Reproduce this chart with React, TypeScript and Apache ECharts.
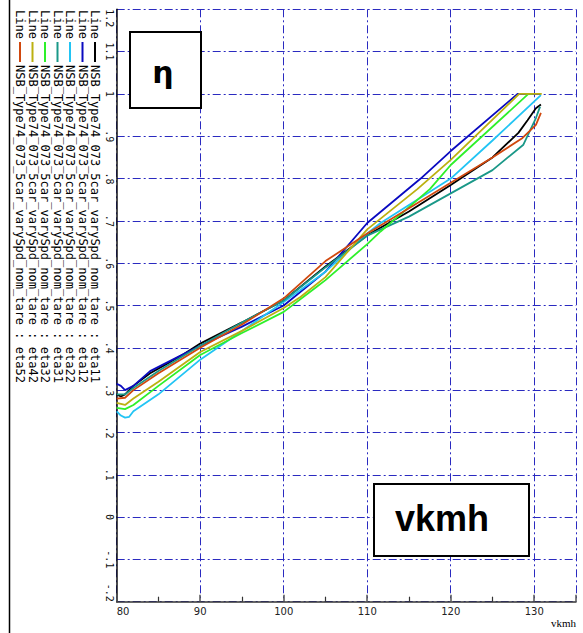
import React, { useEffect, useRef } from "react";
import * as echarts from "echarts";

const seriesNames = [
  "NSB_Type74_073_5car_varySpd_nom_tare : eta11",
  "NSB_Type74_073_5car_varySpd_nom_tare : eta12",
  "NSB_Type74_073_5car_varySpd_nom_tare : eta22",
  "NSB_Type74_073_5car_varySpd_nom_tare : eta31",
  "NSB_Type74_073_5car_varySpd_nom_tare : eta32",
  "NSB_Type74_073_5car_varySpd_nom_tare : eta42",
  "NSB_Type74_073_5car_varySpd_nom_tare : eta52",
];
const seriesColors = ["#000000", "#0a0ac0", "#22c4f4", "#1a9888", "#2ef02a", "#bcb010", "#d0480e"];

const eta11V = [80, 80.5, 81, 82, 84, 86, 88, 90, 95, 100, 105, 110, 115, 120, 125, 128.1, 129.2, 130.2, 130.8];
const eta11Y = [0.29, 0.285, 0.29, 0.31, 0.34, 0.362, 0.385, 0.41, 0.46, 0.512, 0.592, 0.666, 0.722, 0.785, 0.85, 0.908, 0.938, 0.966, 0.975];

const eta12V = [80, 80.5, 81, 82, 84, 86, 88, 90, 95, 100, 105, 110, 116.4, 120, 128, 130.5];
const eta12Y = [0.315, 0.31, 0.3, 0.31, 0.345, 0.365, 0.385, 0.405, 0.45, 0.5, 0.58, 0.695, 0.8, 0.865, 1.0, 1.0];

const eta22V = [80, 80.5, 81, 81.5, 82, 85, 90, 95, 100, 105, 110, 111.6, 120, 125, 130.8];
const eta22Y = [0.25, 0.24, 0.235, 0.237, 0.25, 0.29, 0.372, 0.44, 0.508, 0.58, 0.67, 0.695, 0.8, 0.89, 0.997];

const eta31V = [80, 81, 82, 85, 90, 95, 100, 105, 110, 115, 120, 125, 128.7, 130.2, 130.7];
const eta31Y = [0.29, 0.29, 0.305, 0.345, 0.405, 0.46, 0.512, 0.59, 0.665, 0.71, 0.765, 0.82, 0.88, 0.943, 0.97];

const eta32V = [80, 81, 82, 85, 90, 95, 100, 104, 105, 110, 111.6, 117.5, 120, 129.3, 129.8];
const eta32Y = [0.258, 0.255, 0.265, 0.31, 0.383, 0.435, 0.485, 0.545, 0.56, 0.645, 0.675, 0.775, 0.832, 1.0, 1.0];

const eta42V = [80, 81, 82, 85, 90, 95, 100, 102, 105, 110, 116, 120, 128.2, 130.9];
const eta42Y = [0.27, 0.265, 0.28, 0.32, 0.39, 0.44, 0.494, 0.52, 0.567, 0.68, 0.775, 0.844, 1.0, 1.0];

const eta52V = [80, 81, 82, 85, 90, 95, 100, 105, 110, 115, 120, 125, 128.6, 130.2, 130.8];
const eta52Y = [0.28, 0.282, 0.3, 0.34, 0.4, 0.455, 0.517, 0.605, 0.67, 0.73, 0.79, 0.85, 0.896, 0.927, 0.955];

const seriesV = [eta11V, eta12V, eta22V, eta31V, eta32V, eta42V, eta52V];
const seriesY = [eta11Y, eta12Y, eta22Y, eta31Y, eta32Y, eta42Y, eta52Y];

const xTitle = "vkmh";
const yTitle = "η";

const MONO = "'DejaVu Sans Mono', 'Liberation Mono', monospace";

function fmtY(v: number): string {
  const r = Math.round(v * 10) / 10;
  let s = r.toString();
  s = s.replace(/^0\./, ".").replace(/^-0\./, "-.");
  return s;
}

export default function App() {
  const ref = useRef<HTMLDivElement>(null);
  useEffect(() => {
    if (!ref.current) return;
    const chart = echarts.init(ref.current, undefined, { renderer: "svg" });

    const legendCols = [95, 82.5, 70, 57.5, 45, 32.5, 20];
    const legendGraphics: any[] = [];
    seriesNames.forEach((name, i) => {
      const cx = legendCols[i];
      legendGraphics.push({
        type: "text",
        x: cx,
        y: 10,
        rotation: -Math.PI / 2,
        style: { text: "Line", fill: "#000", font: `12px ${MONO}`, textAlign: "left", textVerticalAlign: "middle" },
      });
      legendGraphics.push({
        type: "line",
        shape: { x1: cx, y1: 42, x2: cx, y2: 62 },
        style: { stroke: seriesColors[i], lineWidth: 2 },
      });
      legendGraphics.push({
        type: "text",
        x: cx,
        y: 65,
        rotation: -Math.PI / 2,
        style: { text: name, fill: "#000", font: `12px ${MONO}`, textAlign: "left", textVerticalAlign: "middle" },
      });
    });

    const option: any = {
      animation: false,
      backgroundColor: "#ffffff",
      grid: { left: 116.7, top: 9.3, right: 7, bottom: 31.3, containLabel: false },
      xAxis: {
        type: "value",
        min: 80,
        max: 135,
        interval: 10,
        name: xTitle,
        nameLocation: "end",
        nameGap: 0,
        nameTextStyle: {
          fontFamily: "'Liberation Serif', 'DejaVu Serif', serif",
          fontSize: 11,
          color: "#000",
          align: "right",
          verticalAlign: "top",
          padding: [16, 0, 0, 0],
        },
        axisLine: { show: true, onZero: false, lineStyle: { color: "#333", width: 1.5 } },
        axisTick: { show: true, inside: true, length: 7, lineStyle: { color: "#555", width: 1.5 } },
        minorTick: { show: true, splitNumber: 2, length: 5, lineStyle: { color: "#333", width: 1.2 } },
        axisLabel: {
          show: true,
          showMaxLabel: false,
          alignMinLabel: "left",
          margin: 5,
          fontFamily: "'DejaVu Sans', sans-serif",
          fontSize: 10,
          color: "#222",
        },
        splitLine: { show: true, lineStyle: { color: "#2a2ac0", width: 1, type: [8, 3, 2, 3] } },
      },
      yAxis: {
        type: "value",
        min: -0.2,
        max: 1.2,
        interval: 0.1,
        axisLine: { show: true, onZero: false, lineStyle: { color: "#111", width: 1.5 } },
        axisTick: { show: false },
        axisLabel: {
          show: true,
          rotate: -90,
          margin: 7,
          verticalAlign: "middle",
          alignMinLabel: "right",
          alignMaxLabel: "left",
          formatter: fmtY,
          fontFamily: MONO,
          fontSize: 10,
          color: "#111",
        },
        splitLine: { show: true, lineStyle: { color: "#2a2ac0", width: 1, type: [8, 3, 2, 3] } },
      },
      graphic: [
        { type: "line", shape: { x1: 9.5, y1: 0, x2: 9.5, y2: 633 }, style: { stroke: "#000", lineWidth: 1.5 } },
        ...legendGraphics,
        {
          type: "rect",
          shape: { x: 130, y: 32, width: 71, height: 76 },
          style: { fill: "#fff", stroke: "#000", lineWidth: 2 },
          z: 10,
        },
        {
          type: "text",
          x: 163,
          y: 72,
          style: {
            text: yTitle,
            fill: "#000",
            font: "bold 30px 'DejaVu Sans', sans-serif",
            textAlign: "center",
            textVerticalAlign: "middle",
          },
          z: 11,
        },
        {
          type: "rect",
          shape: { x: 374, y: 484, width: 155, height: 72 },
          style: { fill: "#fff", stroke: "#000", lineWidth: 2 },
          z: 10,
        },
        {
          type: "text",
          x: 442,
          y: 518,
          style: {
            text: xTitle,
            fill: "#000",
            font: "bold 36px 'Liberation Sans', Arial, sans-serif",
            textAlign: "center",
            textVerticalAlign: "middle",
          },
          z: 11,
        },
      ],
      series: seriesNames.map((name, i) => ({
        name,
        type: "line",
        data: seriesV[i].map((v, j) => [v, seriesY[i][j]]),
        showSymbol: false,
        symbol: "none",
        smooth: false,
        lineStyle: { color: seriesColors[i], width: 1.8 },
        itemStyle: { color: seriesColors[i] },
      })),
    };
    chart.setOption(option);
    return () => chart.dispose();
  }, []);
  return <div ref={ref} style={{ position: "fixed", left: 0, top: 0, width: 583, height: 633, background: "#fff" }} />;
}
